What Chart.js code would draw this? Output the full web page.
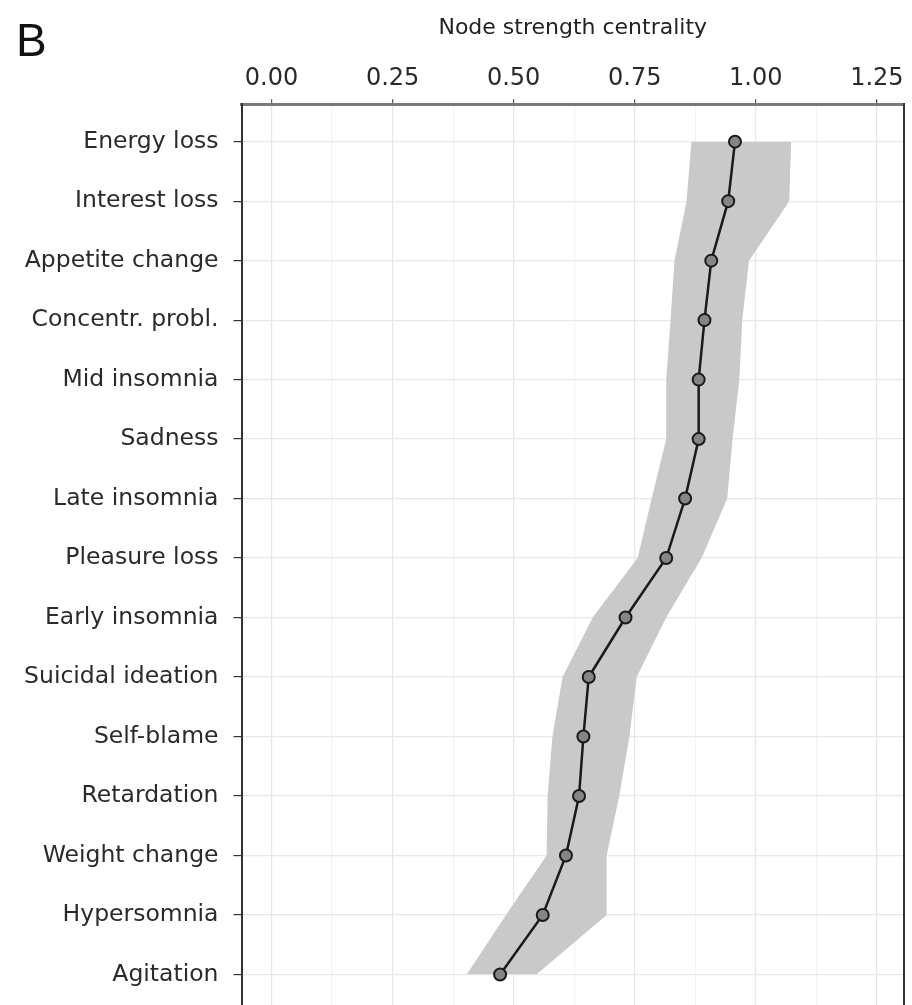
<!DOCTYPE html>
<html lang="en">
<head>
    <meta charset="UTF-8">
    <title>Node strength centrality</title>
    <script src="https://cdn.jsdelivr.net/npm/chart.js"></script>
    <style>
        html, body {
            margin: 0;
            padding: 0;
            background: #fff;
            overflow: hidden;
        }
        .wrap {
            position: relative;
            width: 912px;
            height: 1041px;
        }
        .panel-tag {
            position: absolute;
            left: 16px;
            top: 17px;
            font-family: "Liberation Sans", Arial, sans-serif;
            font-size: 46px;
            line-height: 1;
            color: #111;
        }
    </style>
</head>
<body>
    <div class="wrap">
        <canvas id="grafico"></canvas>
        <div class="panel-tag">B</div>
    </div>

    <script>
        // symptoms, top to bottom
        const symptoms = ['Energy loss', 'Interest loss', 'Appetite change', 'Concentr. probl.', 'Mid insomnia',
            'Sadness', 'Late insomnia', 'Pleasure loss', 'Early insomnia', 'Suicidal ideation',
            'Self-blame', 'Retardation', 'Weight change', 'Hypersomnia', 'Agitation'];
        // node strength estimate
        const strength = [0.957, 0.943, 0.908, 0.894, 0.882, 0.882, 0.854, 0.815, 0.731, 0.655,
            0.644, 0.635, 0.608, 0.560, 0.472];
        // grey band (lower / upper bound)
        const lower = [0.867, 0.857, 0.832, 0.824, 0.815, 0.815, 0.785, 0.756, 0.663, 0.601,
            0.580, 0.570, 0.568, 0.484, 0.403];
        const upper = [1.073, 1.069, 0.986, 0.972, 0.966, 0.952, 0.941, 0.888, 0.815, 0.754,
            0.739, 0.718, 0.692, 0.692, 0.547];
        // labelled ticks on the top axis
        const majorTicks = [0, 0.25, 0.5, 0.75, 1, 1.25];

        const toPoints = arr => arr.map((v, i) => ({ x: v, y: i }));
        const isMajor = v => majorTicks.some(t => Math.abs(t - v) < 1e-6);
        const fuente = '"DejaVu Sans", "Liberation Sans", Arial, sans-serif';

        new Chart(document.getElementById('grafico').getContext('2d'), {
            type: 'line',
            data: {
                datasets: [
                    {
                        data: toPoints(strength),
                        borderColor: '#1a1a1a',
                        borderWidth: 2.5,
                        pointRadius: 6,
                        pointBackgroundColor: '#858585',
                        pointBorderColor: '#1a1a1a',
                        pointBorderWidth: 2,
                        fill: false
                    },
                    {
                        data: toPoints(lower),
                        borderWidth: 0,
                        borderColor: 'rgba(0,0,0,0)',
                        pointRadius: 0,
                        fill: false
                    },
                    {
                        data: toPoints(upper),
                        borderWidth: 0,
                        borderColor: 'rgba(0,0,0,0)',
                        backgroundColor: '#c9c9c9',
                        pointRadius: 0,
                        fill: '-1'
                    }
                ]
            },
            options: {
                indexAxis: 'y',
                responsive: true,
                maintainAspectRatio: false,
                animation: false,
                layout: { padding: { top: 4, left: 20, right: 6, bottom: 0 } },
                plugins: {
                    legend: { display: false },
                    tooltip: { enabled: false }
                },
                scales: {
                    x: {
                        type: 'linear',
                        position: 'top',
                        min: -0.062,
                        max: 1.306,
                        border: { display: true, color: '#7a7a7a', width: 3 },
                        grid: {
                            color: c => isMajor(c.tick.value) ? '#e6e6e6' : '#f3f3f3',
                            tickColor: c => isMajor(c.tick.value) ? '#555' : 'rgba(0,0,0,0)',
                            tickLength: 5,
                            lineWidth: 1.2
                        },
                        ticks: {
                            stepSize: 0.125,
                            includeBounds: false,
                            autoSkip: false,
                            maxRotation: 0,
                            padding: 6,
                            color: '#2a2a2a',
                            font: { family: fuente, size: 24 },
                            callback: v => isMajor(v) ? v.toFixed(2) : ''
                        },
                        title: {
                            display: true,
                            text: 'Node strength centrality',
                            color: '#222',
                            font: { family: fuente, size: 22 },
                            padding: { top: 11, bottom: 17 }
                        }
                    },
                    y: {
                        type: 'linear',
                        reverse: true,
                        min: -0.63,
                        max: 14.63,
                        border: { display: true, color: '#333', width: 2 },
                        grid: {
                            color: '#e8e8e8',
                            tickColor: '#333',
                            tickLength: 8,
                            lineWidth: 1.2
                        },
                        ticks: {
                            stepSize: 1,
                            includeBounds: false,
                            autoSkip: false,
                            padding: 15,
                            color: '#2a2a2a',
                            font: { family: fuente, size: 23.5 },
                            callback: v => symptoms[v] !== undefined ? symptoms[v] : ''
                        }
                    },
                    y2: {
                        type: 'linear',
                        position: 'right',
                        min: -0.63,
                        max: 14.63,
                        border: { display: true, color: '#333', width: 2 },
                        grid: { display: false, drawTicks: false },
                        ticks: { display: false }
                    }
                }
            }
        });
    </script>
</body>
</html>
